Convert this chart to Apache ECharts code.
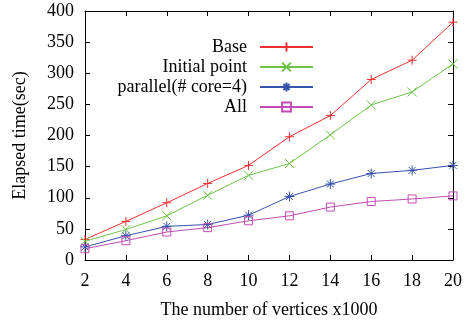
<!DOCTYPE html>
<html>
<head>
<meta charset="utf-8">
<script src="https://cdn.jsdelivr.net/npm/echarts@6/dist/echarts.min.js"></script>
<style>
html, body { margin: 0; padding: 0; background: #fff; }
#mychart { width: 471px; height: 325px; }
</style>
</head>
<body>
<div id="mychart"></div>
<script>
"use strict";
const vertices = [2, 4, 6, 8, 10, 12, 14, 16, 18, 20];
const baseTime = [33, 62, 92, 123, 152, 198, 232, 290, 321, 382];
const initialTime = [30, 49, 71, 104, 136, 155, 201, 249, 270, 315];
const parallelTime = [21, 39, 54, 57, 72, 102, 122, 139, 144, 152];
const allTime = [18, 31, 45, 52, 63, 71, 85, 94, 98, 103];
const seriesNames = ['Base', 'Initial point', 'parallel(# core=4)', 'All'];

const font = 'Liberation Serif';
const fontSize = 18;
// gnuplot style point types, stroked only
const plus = 'path://M0,5L10,5M5,0L5,10';
const cross = 'path://M0,0L10,10M10,0L0,10';
const star = 'path://M0,5L10,5M5,0L5,10M1.5,1.5L8.5,8.5M8.5,1.5L1.5,8.5';
const square = 'path://M0,0L10,0L10,10L0,10Z';

function pairs(ys) {
    return vertices.map((x, i) => [x, ys[i]]);
}
function makeSeries(name, ys, color, symbol, size) {
    return {
        name,
        type: 'line',
        data: pairs(ys),
        symbol,
        symbolSize: size,
        showAllSymbol: true,
        lineStyle: { color, width: 1 },
        itemStyle: { color: 'none', borderColor: color, borderWidth: 1 },
        emphasis: { disabled: true },
        animation: false
    };
}

const container = document.getElementById('mychart');
const myChart = echarts.init(container);
const xCommon = {
    type: 'value', min: 2, max: 20, interval: 2,
    axisLine: { show: true, onZero: false, lineStyle: { color: '#000', width: 1 } },
    axisTick: { show: true, inside: true, length: 5, lineStyle: { color: '#000' } },
    splitLine: { show: false }
};
const yCommon = {
    type: 'value', min: 0, max: 400, interval: 50,
    axisLine: { show: true, onZero: false, lineStyle: { color: '#000', width: 1 } },
    axisTick: { show: true, inside: true, length: 5, lineStyle: { color: '#000' } },
    splitLine: { show: false }
};
const option = {
    backgroundColor: '#fff',
    textStyle: { fontFamily: font },
    grid: { left: 85, right: 18, top: 11, bottom: 65 },
    legend: {
        orient: 'vertical',
        align: 'right',
        right: 152,
        top: 33,
        itemWidth: 53,
        itemHeight: 11,
        itemGap: 2,
        data: seriesNames,
        textStyle: { fontFamily: font, fontSize, color: '#000', padding: [0, 8, 0, 0] }
    },
    xAxis: [
        Object.assign({}, xCommon, {
            position: 'bottom',
            name: 'The number of vertices x1000',
            nameLocation: 'middle',
            nameGap: 41,
            nameTextStyle: { fontFamily: font, fontSize, color: '#000' },
            axisLabel: { fontFamily: font, fontSize, color: '#000', margin: 12 }
        }),
        Object.assign({}, xCommon, { position: 'top', axisLabel: { show: false } })
    ],
    yAxis: [
        Object.assign({}, yCommon, {
            position: 'left',
            name: 'Elapsed time(sec)',
            nameLocation: 'middle',
            nameGap: 56,
            nameTextStyle: { fontFamily: font, fontSize, color: '#000' },
            axisLabel: { fontFamily: font, fontSize, color: '#000', margin: 11 }
        }),
        Object.assign({}, yCommon, { position: 'right', axisLabel: { show: false } })
    ],
    series: [
        makeSeries(seriesNames[0], baseTime, '#ee3030', plus, 9),
        makeSeries(seriesNames[1], initialTime, '#6cc447', cross, 9),
        makeSeries(seriesNames[2], parallelTime, '#3552ac', star, 10),
        makeSeries(seriesNames[3], allTime, '#c24cb4', square, 8)
    ]
};
myChart.setOption(option);
</script>
</body>
</html>
